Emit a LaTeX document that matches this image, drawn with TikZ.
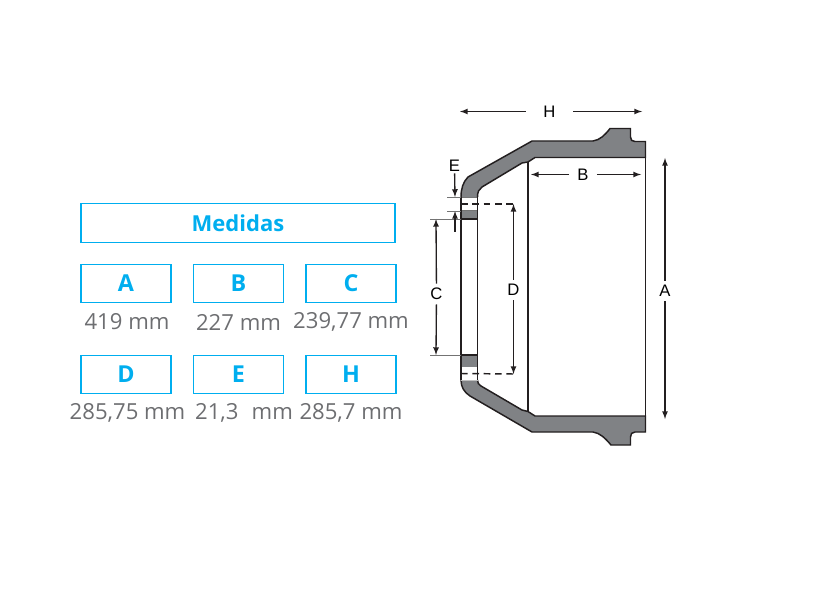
\documentclass[tikz,border=0pt]{standalone}
\usepackage{fontspec}
\setmainfont{Open Sans}
\newfontfamily\dimfont{Liberation Sans}
\usetikzlibrary{arrows}
\definecolor{boxColor}{RGB}{0,174,239}
\definecolor{valColor}{RGB}{109,110,113}
\definecolor{drumColor}{RGB}{128,130,133}
\definecolor{edgeColor}{RGB}{35,31,32}
\tikzset{
  titlebox/.style={draw=boxColor,line width=1pt,inner sep=0pt,minimum height=28.9pt,text=boxColor,font=\fontsize{16.5}{18}\selectfont\bfseries},
  letterbox/.style={titlebox,minimum width=67.5pt,font=\fontsize{17.5}{18}\selectfont\bfseries},
  valtext/.style={text=valColor,inner sep=0pt,font=\fontsize{16.6}{18}\selectfont},
  dimlabel/.style={inner sep=3.2pt,text=black,font=\dimfont\fontsize{12.5}{14}\selectfont},
  dimarrow/.style={->,>=latex,line width=1pt,color=edgeColor},
  thinline/.style={line width=0.4pt,color=black!55},
  drumedge/.style={line width=1.1pt,color=edgeColor}
}
\begin{document}
\begin{tikzpicture}[x=0.75pt,y=-0.75pt]
\useasboundingbox (0,0) rectangle (814,606);
% table
\node[titlebox,minimum width=235.5pt] (medidas) at (238,223) {Medidas};
\foreach \name/\x/\y/\vx/\val in {A/126/283.5/127/419 mm,B/238.5/283.5/238.5/227 mm,C/351/283.5/351/{239,77 mm},D/126/374.5/127.5/{285,75 mm},E/238.5/374.5/244/{21,3\,\, mm},H/351/374.5/351/{285,7 mm}}{
  \node[letterbox] (box\name) at (\x,\y) {\name};
  \node[valtext] (val\name) at (\vx,\y+38.5) {\val};
}
% drum section
\draw[drumedge,fill=drumColor] (461,197) .. controls (461,189) and (463,182) .. (468,177) -- (532,141) -- (593,141) .. controls (600,140) and (605,135) .. (610,128.5) -- (630.5,128.5) -- (630.5,137) .. controls (630.5,140) and (632,141.5) .. (635,141.5) -- (645.5,141.5) -- (645.5,157.5) -- (535,157.5) -- (528,162) -- (522,163) -- (482,187) .. controls (479,189) and (477.5,192) .. (477.5,197);
\draw[drumedge,fill=drumColor] (461,380) .. controls (461,387) and (464,392) .. (470,396) -- (532,432) -- (593,432) .. controls (600,433) and (605,438) .. (611,445) -- (630.5,445) -- (630.5,437) .. controls (630.5,434) and (632,432) .. (635,432) -- (645.5,432) -- (645.5,416) -- (535,416) -- (528,411.5) -- (522,410) -- (481,386) .. controls (478.5,384.5) and (477.5,383) .. (477.5,380);
\fill[drumColor] (461,210.5) rectangle (477.5,219);
\fill[drumColor] (461,355) rectangle (477.5,367);
\draw[thinline] (461,197) -- (477.5,197);
\draw[thinline] (461,210.5) -- (477.5,210.5);
\draw[line width=0.6pt,color=black!25] (461,380) -- (477.5,380);
\draw[drumedge] (461,197) -- (461,380);
\draw[drumedge] (477.5,197) -- (477.5,380);
\draw[drumedge] (461,219) -- (477.5,219);
\draw[drumedge] (461,355) -- (477.5,355);
\draw[drumedge] (528,162) -- (528,411.5);
\draw[drumedge] (645.5,157.5) -- (645.5,416);
% dimensions
\coordinate (Hleft) at (460,111.5);
\coordinate (Hright) at (642,111.5);
\node[dimlabel,inner xsep=13pt] (labelH) at (549.5,111.5) {H};
\draw[dimarrow] (labelH) -- (Hleft);
\draw[dimarrow] (labelH) -- (Hright);
\coordinate (Bleft) at (531,174.5);
\coordinate (Bright) at (641,174.5);
\node[dimlabel,inner xsep=6pt] (labelB) at (583,174.5) {B};
\draw[dimarrow] (labelB) -- (Bleft);
\draw[dimarrow] (labelB) -- (Bright);
\coordinate (Atop) at (665,158);
\coordinate (Abot) at (665,419);
\node[dimlabel] (labelA) at (665,291) {A};
\draw[dimarrow] (labelA) -- (Atop);
\draw[dimarrow] (labelA) -- (Abot);
\coordinate (Dtop) at (513.5,204);
\coordinate (Dbot) at (513.5,374);
\node[dimlabel] (labelD) at (513.5,290) {D};
\draw[dimarrow] (labelD) -- (Dtop);
\draw[dimarrow] (labelD) -- (Dbot);
\draw[drumedge,dash pattern=on 5pt off 3.5pt] (461,204) -- (Dtop);
\draw[drumedge,dash pattern=on 5pt off 3.5pt] (461,373.5) -- (Dbot);
\coordinate (Ctop) at (436,219);
\coordinate (Cbot) at (436,355);
\node[dimlabel] (labelC) at (436.5,294) {C};
\draw[dimarrow] (labelC) -- (Ctop);
\draw[dimarrow] (labelC) -- (Cbot);
\draw[thinline] (430,219) -- (461,219);
\draw[thinline] (430,355) -- (461,355);
\node[dimlabel,inner sep=1pt] (labelE) at (454.5,166) {E};
\coordinate (Etop) at (455,197);
\coordinate (Eup) at (455,211);
\coordinate (Ebot) at (455,232);
\draw[dimarrow] (labelE) -- (Etop);
\draw[dimarrow] (Ebot) -- (Eup);
\draw[thinline] (447,197) -- (461,197);
\draw[thinline] (447,211) -- (461,211);
\end{tikzpicture}
\end{document}
